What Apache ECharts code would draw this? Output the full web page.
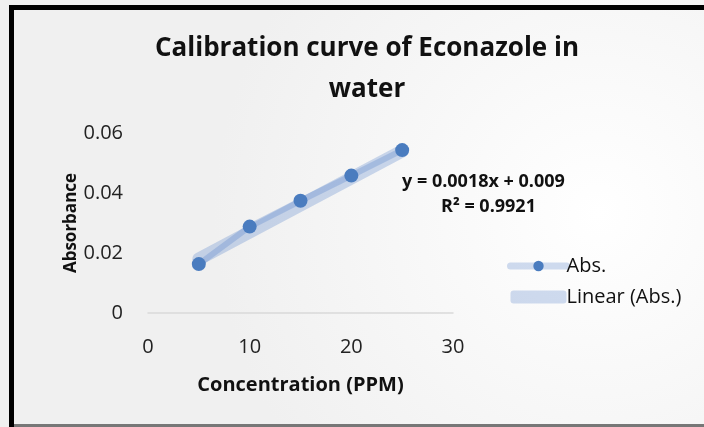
<!DOCTYPE html>
<html>
<head>
<meta charset="utf-8">
<script src="https://cdn.jsdelivr.net/npm/echarts@6/dist/echarts.min.js"></script>
<style>
  html, body { margin: 0; padding: 0; }
  #box { width: 704px; height: 427px; }
</style>
</head>
<body>
<div id="box"></div>
<script>
// concentration (PPM) and absorbance
const concentration = [5, 10, 15, 20, 25]
const absorbance = [0.0163, 0.0288, 0.0374, 0.0458, 0.0543]
// Excel trendline: y = 0.0018x + 0.009
const slope = 0.0018
const intercept = 0.009
const xTicks = [0, 10, 20, 30]
const yTicks = [0, 0.02, 0.04, 0.06]

const font = '"Open Sans", "Noto Sans", sans-serif'
const trendX = [concentration[0], concentration[concentration.length - 1]]
const trend = trendX.map(x => [x, slope * x + intercept])
const points = concentration.map((x, i) => [x, absorbance[i]])

const myeCharts = echarts.init(document.getElementById('box'))
const option = {
  backgroundColor: {
    type: 'radial', x: 0.85, y: 0.5, r: 0.9,
    colorStops: [{offset: 0, color: '#ffffff'}, {offset: 1, color: '#f0f0f0'}]
  },
  animation: false,
  textStyle: {fontFamily: font},
  title: {
    text: 'Calibration curve of Econazole in\nwater',
    left: 362, top: 23, textAlign: 'center',
    textStyle: {fontSize: 26, fontWeight: 'bold', color: '#111', lineHeight: 41, fontFamily: font}
  },
  grid: {left: 148, right: 251, top: 133, bottom: 114},
  xAxis: {
    type: 'value', min: xTicks[0], max: xTicks[xTicks.length - 1], interval: 10,
    name: 'Concentration (PPM)', nameLocation: 'middle', nameGap: 62,
    nameTextStyle: {fontSize: 20, fontWeight: 'bold', color: '#111'},
    axisLine: {lineStyle: {color: '#d9d9d9', width: 1.5}},
    axisTick: {show: false},
    axisLabel: {fontSize: 20, color: '#222', margin: 24},
    splitLine: {show: false}
  },
  yAxis: {
    type: 'value', min: yTicks[0], max: yTicks[yTicks.length - 1], interval: 0.02,
    name: 'Absorbance', nameLocation: 'middle', nameGap: 62, nameRotate: 90,
    nameTextStyle: {fontSize: 17, fontWeight: 'bold', color: '#111'},
    axisLine: {show: false},
    axisTick: {show: false},
    axisLabel: {fontSize: 20, color: '#222', margin: 25},
    splitLine: {show: false}
  },
  legend: {
    orient: 'vertical', left: 502, top: 251, itemGap: 11,
    itemWidth: 56, itemHeight: 13,
    textStyle: {fontSize: 20, color: '#111', padding: [0, 0, 0, -5]},
    data: [
      {name: 'Abs.', lineStyle: {width: 7, color: 'rgba(100,140,205,0.3)', cap: 'round'}},
      {name: 'Linear (Abs.)', icon: 'roundRect'}
    ]
  },
  series: [
    {
      name: 'Linear (Abs.)', type: 'line', data: trend, symbol: 'none', z: 1,
      lineStyle: {color: 'rgba(100,140,205,0.32)', width: 13, cap: 'round'},
      itemStyle: {color: 'rgba(100,140,205,0.3)'}
    },
    {
      name: 'Abs.', type: 'line', data: points, symbol: 'circle', symbolSize: 14, z: 2,
      lineStyle: {color: 'rgba(100,140,205,0.35)', width: 6, cap: 'round'},
      itemStyle: {color: '#4a7cbf'}
    }
  ],
  graphic: [
    {type: 'text', left: 402, top: 173, style: {
      text: 'y = 0.0018x + 0.009', font: 'bold 18px ' + font, fill: '#111'
    }},
    {type: 'text', left: 441, top: 198, style: {
      text: 'R² = 0.9921', font: 'bold 18px ' + font, fill: '#111'
    }},
    {type: 'rect', shape: {x: 11.5, y: 7.5, width: 710, height: 425}, silent: true,
      style: {fill: 'none', stroke: '#000', lineWidth: 5}},
    {type: 'rect', shape: {x: 14, y: 424, width: 704, height: 3}, silent: true,
      style: {fill: '#777'}}
  ]
}
myeCharts.setOption(option)
</script>
</body>
</html>
